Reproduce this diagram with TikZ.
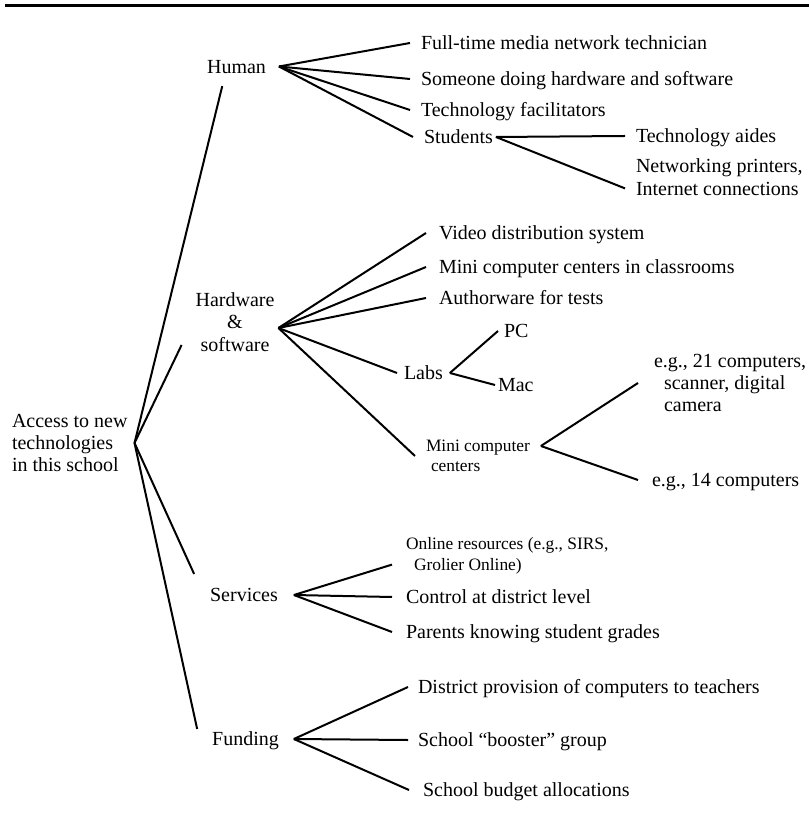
\documentclass[tikz,border=0pt]{standalone}
\usepackage{fontspec}
\setmainfont{Liberation Serif}

\begin{document}
\begin{tikzpicture}[x=0.5pt, y=-0.5pt, line width=1pt,
    every node/.style={font=\fontsize{10}{11.2}\selectfont},
    one/.style={text height=6.6pt, text depth=0pt, inner ysep=0pt},
    leaf/.style={one, anchor=west, inner xsep=#1},
    leaf/.default=5pt,
    multi/.style={anchor=west, align=left, inner xsep=#1, inner ysep=0pt},
    multi/.default=5pt,
    tiny/.style={font=\fontsize{8.7}{10.2}\selectfont}]
  \useasboundingbox (0,0) rectangle (809,822);
  \draw[line width=1.5pt] (5,6) -- (809,6);

  \node[multi=3pt] (root) at (5,443) {Access to new\\technologies\\in this school};
  \node[one, inner sep=6pt] (hum) at (236.5,66.5) {Human};
  \node[align=center, inner xsep=1.5pt] (hw) at (235,322) {Hardware\\\&\\software};
  \node[one, inner xsep=7.5pt, inner ysep=6.7pt] (srv) at (244,595) {Services};
  \node[one, inner xsep=7pt, inner ysep=1.2pt] (fund) at (245.5,739) {Funding};

  \node[leaf] (tech) at (410,43) {Full-time media network technician};
  \node[leaf] (both) at (410,79) {Someone doing hardware and software};
  \node[leaf] (facil) at (410,110) {Technology facilitators};
  \node[leaf] (stud) at (413,137) {Students};
  \node[leaf] (aides) at (625,136) {Technology aides};
  \node[multi] (netw) at (625,177) {Networking printers,\\Internet connections};

  \node[leaf=6pt] (video) at (426,233) {Video distribution system};
  \node[leaf=6pt] (minicl) at (426,267) {Mini computer centers in classrooms};
  \node[leaf=6pt] (authw) at (426,298) {Authorware for tests};
  \node[leaf=3pt] (labs) at (397,373) {Labs};
  \node[leaf=2.5pt] (pc) at (498,331) {PC};
  \node[leaf=1pt] (mac) at (495,385) {Mac};
  \node[multi, tiny] (mini) at (415,456) {Mini computer\\\hspace*{2.5pt}centers};
  \node[multi=7.5pt] (big) at (638,383) {e.g., 21 computers,\\\hspace*{5pt}scanner, digital\\\hspace*{5pt}camera};
  \node[leaf=6.5pt] (small) at (638,480) {e.g., 14 computers};

  \node[multi=6.5pt, tiny] (online) at (392,556) {Online resources (e.g., SIRS,\\\hspace*{4pt}Grolier Online)};
  \node[leaf=6.5pt] (ctrl) at (392,597) {Control at district level};
  \node[leaf=6.5pt] (grades) at (392,632) {Parents knowing student grades};

  \node[leaf=4.5pt] (distr) at (408,687) {District provision of computers to teachers};
  \node[leaf=4.5pt] (boost) at (408,740) {School ``booster'' group};
  \node[leaf=6.5pt] (budget) at (409,790) {School budget allocations};

  \path
  (root.east) edge (hum.234)
  (root.east) edge ([shift={(-5pt,-11.5pt)}]hw.west)
  (root.east) edge (srv.north west)
  (root.east) edge (fund.north west)
  (hum.east) edge (tech.west)
  (hum.east) edge (both.west)
  (hum.east) edge (facil.west)
  (hum.east) edge (stud.west)
  ([xshift=-4pt]stud.east) edge (aides.west)
  ([xshift=-4pt]stud.east) edge ([yshift=-5.7pt]netw.west)
  ([yshift=-3pt]hw.east) edge (video.west)
  ([yshift=-3pt]hw.east) edge (minicl.west)
  ([yshift=-3pt]hw.east) edge (authw.west)
  ([yshift=-3pt]hw.east) edge (labs.west)
  ([yshift=-3pt]hw.east) edge (mini.west)
  (labs.east) edge (pc.west)
  (labs.east) edge (mac.west)
  ([yshift=5pt]mini.east) edge (big.west)
  ([yshift=5pt]mini.east) edge (small.west)
  (srv.east) edge ([yshift=-4.3pt]online.west)
  (srv.east) edge (ctrl.west)
  (srv.east) edge (grades.west)
  (fund.east) edge (distr.west)
  (fund.east) edge (boost.west)
  (fund.east) edge (budget.west)
;
\end{tikzpicture}
\end{document}
